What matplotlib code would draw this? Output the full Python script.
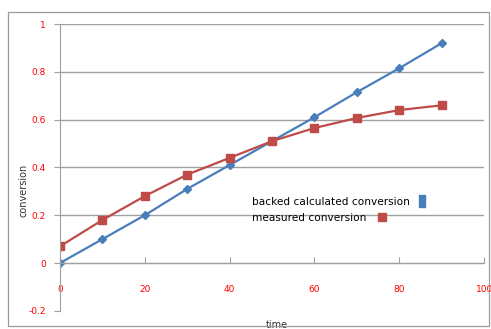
import matplotlib.pyplot as plt
from matplotlib.patches import Rectangle
from matplotlib.lines import Line2D

time = [0, 10, 20, 30, 40, 50, 60, 70, 80, 90]
backed = [0.0, 0.10, 0.20, 0.31, 0.41, 0.51, 0.61, 0.715, 0.815, 0.92]
measured = [0.07, 0.18, 0.28, 0.37, 0.44, 0.51, 0.565, 0.607, 0.64, 0.66]
xticks = [0, 20, 40, 60, 80, 100]
yticks = [-0.2, 0, 0.2, 0.4, 0.6, 0.8, 1]

blue = '#4a7ebb'
red = '#be4b48'

fig = plt.figure(figsize=(4.91, 3.29), dpi=100)
fig.patches.append(Rectangle((0.016, 0.01), 0.98, 0.955, transform=fig.transFigure,
                             fill=False, edgecolor='#9a9a9a', linewidth=0.9))
ax = fig.add_axes([0.122, 0.055, 0.864, 0.872])

ax.plot(time, backed, color=blue, linewidth=1.6, marker='D', markersize=4)
ax.plot(time, measured, color=red, linewidth=1.6, marker='s', markersize=6)

ax.set_xlim(0, 100)
ax.set_ylim(-0.2, 1)
ax.set_xticks(xticks)
ax.set_yticks(yticks)
ax.set_yticklabels(['-0.2', '0', '0.2', '0.4', '0.6', '0.8', '1'])
ax.grid(axis='y', color='#a0a0a0', linewidth=1)
ax.get_ygridlines()[0].set_visible(False)
ax.set_axisbelow(True)

for s in ['top', 'right']:
    ax.spines[s].set_visible(False)
ax.spines['bottom'].set_position(('data', 0))
ax.spines['bottom'].set_color('#a0a0a0')
ax.spines['left'].set_color('#a0a0a0')
ax.tick_params(axis='x', direction='in', length=4, pad=16, colors='#a0a0a0',
               labelcolor='red', labelsize=6.5)
ax.tick_params(axis='y', direction='out', length=4, pad=6, colors='#a0a0a0',
               labelcolor='red', labelsize=6.5)

ax.set_xlabel('time', fontsize=7, color='#333333')
ax.xaxis.set_label_coords(0.512, -0.03)
ax.set_ylabel('conversion', fontsize=7, color='#333333')
ax.yaxis.set_label_coords(-0.075, 0.42)

# legend: two separate entries, text left, marker right
tall = [(-0.55, -1), (0.55, -1), (0.55, 1), (-0.55, 1), (-0.55, -1)]
h1 = Line2D([], [], color=blue, marker=tall, linestyle='none', markersize=9)
h2 = Line2D([], [], color=red, marker='s', linestyle='none', markersize=6)
leg1 = ax.legend([h1], ['backed calculated conversion'], markerfirst=False,
                 frameon=False, fontsize=7.6, loc='upper left',
                 bbox_to_anchor=(0.44, 0.416), handletextpad=0.7,
                 borderpad=0, handlelength=1)
ax.add_artist(leg1)
ax.legend([h2], ['measured conversion'], markerfirst=False,
          frameon=False, fontsize=7.6, loc='upper left',
          bbox_to_anchor=(0.44, 0.36), handletextpad=1.0,
          borderpad=0, handlelength=1)

fig.savefig('out.png', dpi=100)
